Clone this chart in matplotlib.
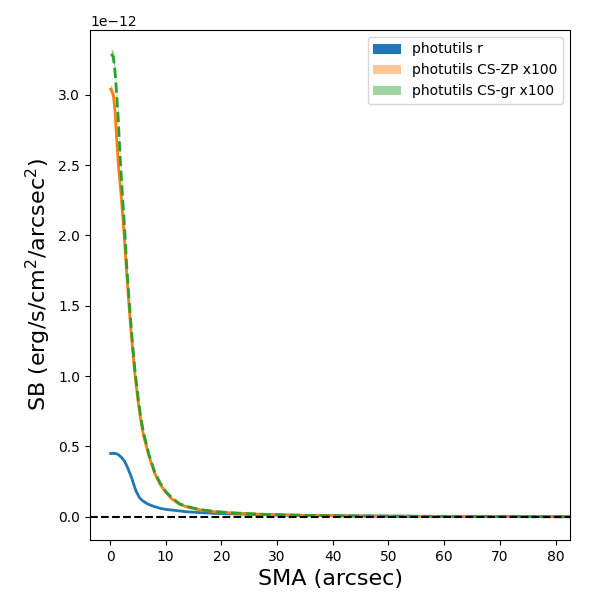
import numpy as np
import matplotlib
matplotlib.use("Agg")
import matplotlib.pyplot as plt

# Surface brightness profiles (units of 1e-12 erg/s/cm^2/arcsec^2)
sma_r = [0.1, 0.6, 1.2, 1.6, 2.1, 2.6, 3.2, 3.8, 4.3, 4.7, 5.3, 5.9, 6.8, 7.7, 9.0,
         10.1, 12.0, 13.7, 16.0, 19.0, 25.0, 30.0, 40.0, 50.0, 60.0, 70.0, 83.0]
sb_r = [0.450, 0.452, 0.448, 0.438, 0.420, 0.395, 0.345, 0.285, 0.225, 0.180, 0.135,
        0.112, 0.090, 0.076, 0.060, 0.052, 0.044, 0.036, 0.030, 0.024, 0.017, 0.013,
        0.008, 0.005, 0.003, 0.002, 0.001]

sma_zp = [0.1, 0.6, 0.9, 1.2, 1.5, 2.0, 2.5, 3.0, 3.5, 4.0, 4.5, 5.0, 5.5, 6.0, 7.0,
          8.0, 9.0, 10.0, 11.0, 12.5, 14.0, 16.0, 19.0, 22.0, 26.0, 30.0, 35.0, 45.0,
          55.0, 65.0, 83.0]
sb_zp = [3.04, 3.00, 2.88, 2.68, 2.50, 2.28, 2.02, 1.72, 1.45, 1.21, 1.00, 0.83, 0.69,
         0.58, 0.43, 0.31, 0.23, 0.175, 0.130, 0.088, 0.068, 0.050, 0.035, 0.027, 0.020,
         0.014, 0.010, 0.005, 0.003, 0.002, 0.000]

sma_gr = [0.2, 0.6, 0.9, 1.1, 1.4, 1.8, 2.2, 2.6, 3.0, 3.5, 4.0, 4.5, 5.0, 5.5, 6.0,
          7.0, 8.0, 9.0, 10.0, 11.0, 12.5, 14.0, 16.0, 19.0, 22.0, 26.0, 30.0, 35.0,
          45.0, 55.0, 65.0, 83.0]
sb_gr = [3.29, 3.27, 3.16, 3.05, 2.88, 2.57, 2.30, 2.06, 1.78, 1.50, 1.25, 1.03, 0.86,
         0.71, 0.60, 0.44, 0.32, 0.24, 0.18, 0.14, 0.092, 0.072, 0.052, 0.037, 0.028,
         0.020, 0.014, 0.010, 0.005, 0.003, 0.002, 0.000]

labels = ["photutils r", "photutils CS-ZP x100", "photutils CS-gr x100"]
colors = ["#1f77b4", "#ff7f0e", "#2ca02c"]
scale = 1e-12

fig = plt.figure(figsize=(6, 6), dpi=100)
ax = fig.add_axes([0.15, 0.10, 0.80, 0.85])

series = [(sma_r, sb_r), (sma_zp, sb_zp), (sma_gr, sb_gr)]
alphas = [1.0, 0.45, 0.45]
styles = ["-", "-", "--"]
for (x, y), lab, c, a, ls in zip(series, labels, colors, alphas, styles):
    x = np.asarray(x)
    y = np.asarray(y) * scale
    err = 0.012 * np.abs(y)
    ax.fill_between(x, y - err, y + err, color=c, alpha=a, label=lab, lw=0)
    ax.plot(x, y, color=c, ls=ls, lw=2)

ax.axhline(0, color="k", ls="--", lw=1.5)

ax.set_xlim(-3.6, 82.6)
ax.set_ylim(-0.165e-12, 3.46e-12)
ax.set_xlabel("SMA (arcsec)", fontsize=16)
ax.set_ylabel("SB (erg/s/cm$^2$/arcsec$^2$)", fontsize=16)
ax.legend(loc="upper right")

fig.savefig("out.png", dpi=100)
